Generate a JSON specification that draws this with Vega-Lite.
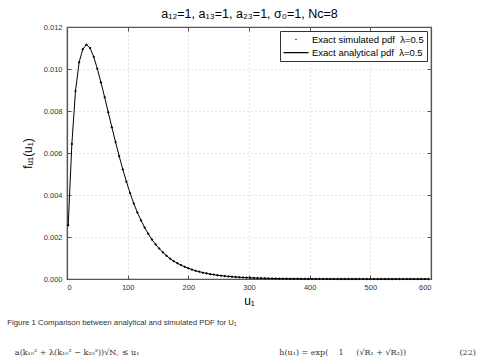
{
  "$schema": "https://vega.github.io/schema/vega-lite/v6.json",
  "padding": {"left": 7, "top": 7, "right": 4, "bottom": 0},
  "width": 364,
  "height": 252,
  "background": "white",
  "title": {
    "text": "Figure 1 Comparison between analytical and simulated PDF for U₁",
    "subtitle": "\u200b\u00a0\u00a0\u00a0a(k₁₀² + λ(k₁₀² − k₂₀²))√N꜀ ≤ u₁\u00a0\u00a0\u00a0\u00a0\u00a0\u00a0\u00a0\u00a0\u00a0\u00a0\u00a0\u00a0\u00a0\u00a0\u00a0\u00a0\u00a0\u00a0\u00a0\u00a0\u00a0\u00a0\u00a0\u00a0\u00a0\u00a0\u00a0\u00a0\u00a0\u00a0\u00a0\u00a0\u00a0\u00a0\u00a0\u00a0\u00a0\u00a0\u00a0\u00a0\u00a0\u00a0\u00a0\u00a0\u00a0\u00a0\u00a0\u00a0\u00a0\u00a0\u00a0\u00a0\u00a0\u00a0\u00a0h(u₁) = exp(\u00a0\u00a0\u00a0\u00a01\u00a0\u00a0\u00a0\u00a0\u00a0(√R₁ + √R₂))\u00a0\u00a0\u00a0\u00a0\u00a0\u00a0\u00a0\u00a0\u00a0\u00a0\u00a0\u00a0\u00a0\u00a0\u00a0\u00a0\u00a0\u00a0\u00a0\u00a0\u00a0(22)",
    "orient": "bottom",
    "anchor": "start",
    "frame": "bounds",
    "dx": -14,
    "offset": 12,
    "font": "Liberation Sans, DejaVu Sans",
    "fontSize": 7.8,
    "fontWeight": "normal",
    "color": "#333333",
    "subtitleFont": "DejaVu Serif",
    "subtitleFontSize": 8,
    "subtitleColor": "#333333",
    "subtitlePadding": 23
  },
  "datasets": {
    "pdf": [
      {"u": 2, "f": 0.00256}, {"u": 8, "f": 0.00643}, {"u": 14, "f": 0.00895}, {"u": 20, "f": 0.01032},
      {"u": 26, "f": 0.01094}, {"u": 32, "f": 0.01116}, {"u": 38, "f": 0.011}, {"u": 44, "f": 0.01058},
      {"u": 50, "f": 0.01001}, {"u": 56, "f": 0.00936}, {"u": 62, "f": 0.00866}, {"u": 68, "f": 0.00794},
      {"u": 74, "f": 0.00722}, {"u": 80, "f": 0.00652}, {"u": 86, "f": 0.00585}, {"u": 92, "f": 0.00522},
      {"u": 98, "f": 0.00463}, {"u": 104, "f": 0.00409}, {"u": 110, "f": 0.0036}, {"u": 116, "f": 0.00317},
      {"u": 122, "f": 0.00279}, {"u": 128, "f": 0.00245}, {"u": 134, "f": 0.00215}, {"u": 140, "f": 0.00188},
      {"u": 146, "f": 0.00165}, {"u": 152, "f": 0.00145}, {"u": 158, "f": 0.00127}, {"u": 164, "f": 0.00111},
      {"u": 170, "f": 0.00097}, {"u": 176, "f": 0.00085}, {"u": 182, "f": 0.00075}, {"u": 188, "f": 0.00066},
      {"u": 194, "f": 0.00058}, {"u": 200, "f": 0.00051}, {"u": 206, "f": 0.00045}, {"u": 212, "f": 0.00039},
      {"u": 218, "f": 0.00035}, {"u": 224, "f": 0.0003}, {"u": 230, "f": 0.00027}, {"u": 236, "f": 0.00023},
      {"u": 242, "f": 0.00021}, {"u": 248, "f": 0.00018}, {"u": 254, "f": 0.00016}, {"u": 260, "f": 0.00014},
      {"u": 266, "f": 0.00012}, {"u": 272, "f": 0.00011}, {"u": 278, "f": 0.000095}, {"u": 284, "f": 0.000083},
      {"u": 290, "f": 0.000073}, {"u": 296, "f": 0.000064}, {"u": 302, "f": 0.000056}, {"u": 308, "f": 0.000049},
      {"u": 314, "f": 0.000043}, {"u": 320, "f": 0.000038}, {"u": 326, "f": 0.000033}, {"u": 332, "f": 0.000029},
      {"u": 338, "f": 0.000025}, {"u": 344, "f": 0.000022}, {"u": 350, "f": 0.000019}, {"u": 356, "f": 0.000017},
      {"u": 362, "f": 0.000015}, {"u": 368, "f": 0.000013}, {"u": 374, "f": 0.000011}, {"u": 380, "f": 0.0000099},
      {"u": 386, "f": 0.0000087}, {"u": 392, "f": 0.0000076}, {"u": 398, "f": 0.0000066}, {"u": 404, "f": 0.0000058},
      {"u": 410, "f": 0.0000051}, {"u": 416, "f": 0.0000045}, {"u": 422, "f": 0.0000039}, {"u": 428, "f": 0.0000034},
      {"u": 434, "f": 0.000003}, {"u": 440, "f": 0.0000026}, {"u": 446, "f": 0.0000023}, {"u": 452, "f": 0.000002},
      {"u": 458, "f": 0.0000018}, {"u": 464, "f": 0.0000016}, {"u": 470, "f": 0.0000014}, {"u": 476, "f": 0.0000012},
      {"u": 482, "f": 0.0000011}, {"u": 488, "f": 0.000001}, {"u": 494, "f": 0.0000009}, {"u": 500, "f": 0.0000008},
      {"u": 506, "f": 0.0000007}, {"u": 512, "f": 0.0000006}, {"u": 518, "f": 0.0000005}, {"u": 524, "f": 0.0000005},
      {"u": 530, "f": 0.0000004}, {"u": 536, "f": 0.0000004}, {"u": 542, "f": 0.0000003}, {"u": 548, "f": 0.0000003},
      {"u": 554, "f": 0.0000003}, {"u": 560, "f": 0.0000002}, {"u": 566, "f": 0.0000002}, {"u": 572, "f": 0.0000002},
      {"u": 578, "f": 0.0000002}, {"u": 584, "f": 0.0000001}, {"u": 590, "f": 0.0000001}, {"u": 596, "f": 0.0000001}
    ]
  },
  "data": {"name": "pdf"},
  "resolve": {"axis": {"x": "independent", "y": "independent"}},
  "layer": [
    {
      "mark": {"type": "line", "color": "black", "strokeWidth": 1},
      "encoding": {
        "x": {
          "field": "u", "type": "quantitative",
          "scale": {"domain": [0, 600], "nice": false},
          "axis": {
            "orient": "bottom", "values": [0, 100, 200, 300, 400, 500, 600],
            "title": "u₁", "titleFontSize": 12, "titlePadding": 5, "titleFontWeight": "normal",
            "grid": true, "tickSize": -4, "labelPadding": 8
          }
        },
        "y": {
          "field": "f", "type": "quantitative",
          "scale": {"domain": [0, 0.012], "nice": false},
          "axis": {
            "orient": "left", "values": [0, 0.002, 0.004, 0.006, 0.008, 0.01, 0.012], "format": ".3f",
            "title": "fᵤ₁(u₁)", "titleFontSize": 12, "titlePadding": 9, "titleFontWeight": "normal",
            "grid": true, "tickSize": -4, "labelPadding": 9
          }
        }
      }
    },
    {
      "mark": {"type": "point", "filled": true, "fill": "black", "stroke": "black", "strokeWidth": 1, "opacity": 1},
      "encoding": {
        "x": {
          "field": "u", "type": "quantitative",
          "axis": {
            "orient": "top", "values": [0, 100, 200, 300, 400, 500, 600], "labels": false, "grid": false,
            "title": "a₁₂=1, a₁₃=1, a₂₃=1, σ₀=1, Nc=8", "titleFontSize": 12.5, "titleFontWeight": "normal",
            "titlePadding": 6, "tickSize": -4
          }
        },
        "y": {
          "field": "f", "type": "quantitative",
          "axis": {
            "orient": "right", "values": [0, 0.002, 0.004, 0.006, 0.008, 0.01, 0.012], "labels": false,
            "grid": false, "title": null, "tickSize": -4
          }
        },
        "shape": {
          "datum": "Exact simulated pdf\u00a0\u00a0λ=0.5",
          "scale": {
            "domain": ["Exact simulated pdf\u00a0\u00a0λ=0.5", "Exact analytical pdf\u00a0\u00a0λ=0.5"],
            "range": ["circle", "M-1,-0.05H1V0.05H-1Z"]
          },
          "legend": {
            "title": null, "orient": "top-right", "offset": 4,
            "fillColor": "white", "strokeColor": "#333333", "padding": 3,
            "labelFontSize": 9.5, "labelColor": "black", "labelOffset": 3,
            "symbolStrokeColor": "black", "symbolFillColor": "black",
            "symbolStrokeWidth": 0.3, "rowPadding": 2, "clipHeight": 11
          }
        },
        "size": {
          "datum": "Exact simulated pdf\u00a0\u00a0λ=0.5",
          "scale": {
            "type": "ordinal",
            "domain": ["Exact simulated pdf\u00a0\u00a0λ=0.5", "Exact analytical pdf\u00a0\u00a0λ=0.5"],
            "range": [2, 625]
          },
          "legend": {
            "title": null, "orient": "top-right", "offset": 4,
            "fillColor": "white", "strokeColor": "#333333", "padding": 3,
            "labelFontSize": 9.5, "labelColor": "black", "labelOffset": 3,
            "symbolStrokeColor": "black", "symbolFillColor": "black",
            "symbolStrokeWidth": 0.3, "rowPadding": 2, "clipHeight": 11
          }
        }
      }
    }
  ],
  "config": {
    "font": "Liberation Sans, DejaVu Sans",
    "view": {"stroke": "#555555", "strokeWidth": 1.2},
    "axis": {
      "domainColor": "#555555", "domainWidth": 1.2, "tickColor": "#555555",
      "labelFont": "Liberation Sans, DejaVu Sans", "labelFontSize": 7.5, "labelColor": "#333333",
      "titleFont": "Liberation Sans, DejaVu Sans", "titleColor": "black",
      "gridColor": "#bbbbbb", "gridDash": [1, 3], "gridWidth": 0.8
    },
    "legend": {"labelFont": "Liberation Sans, DejaVu Sans"}
  }
}
